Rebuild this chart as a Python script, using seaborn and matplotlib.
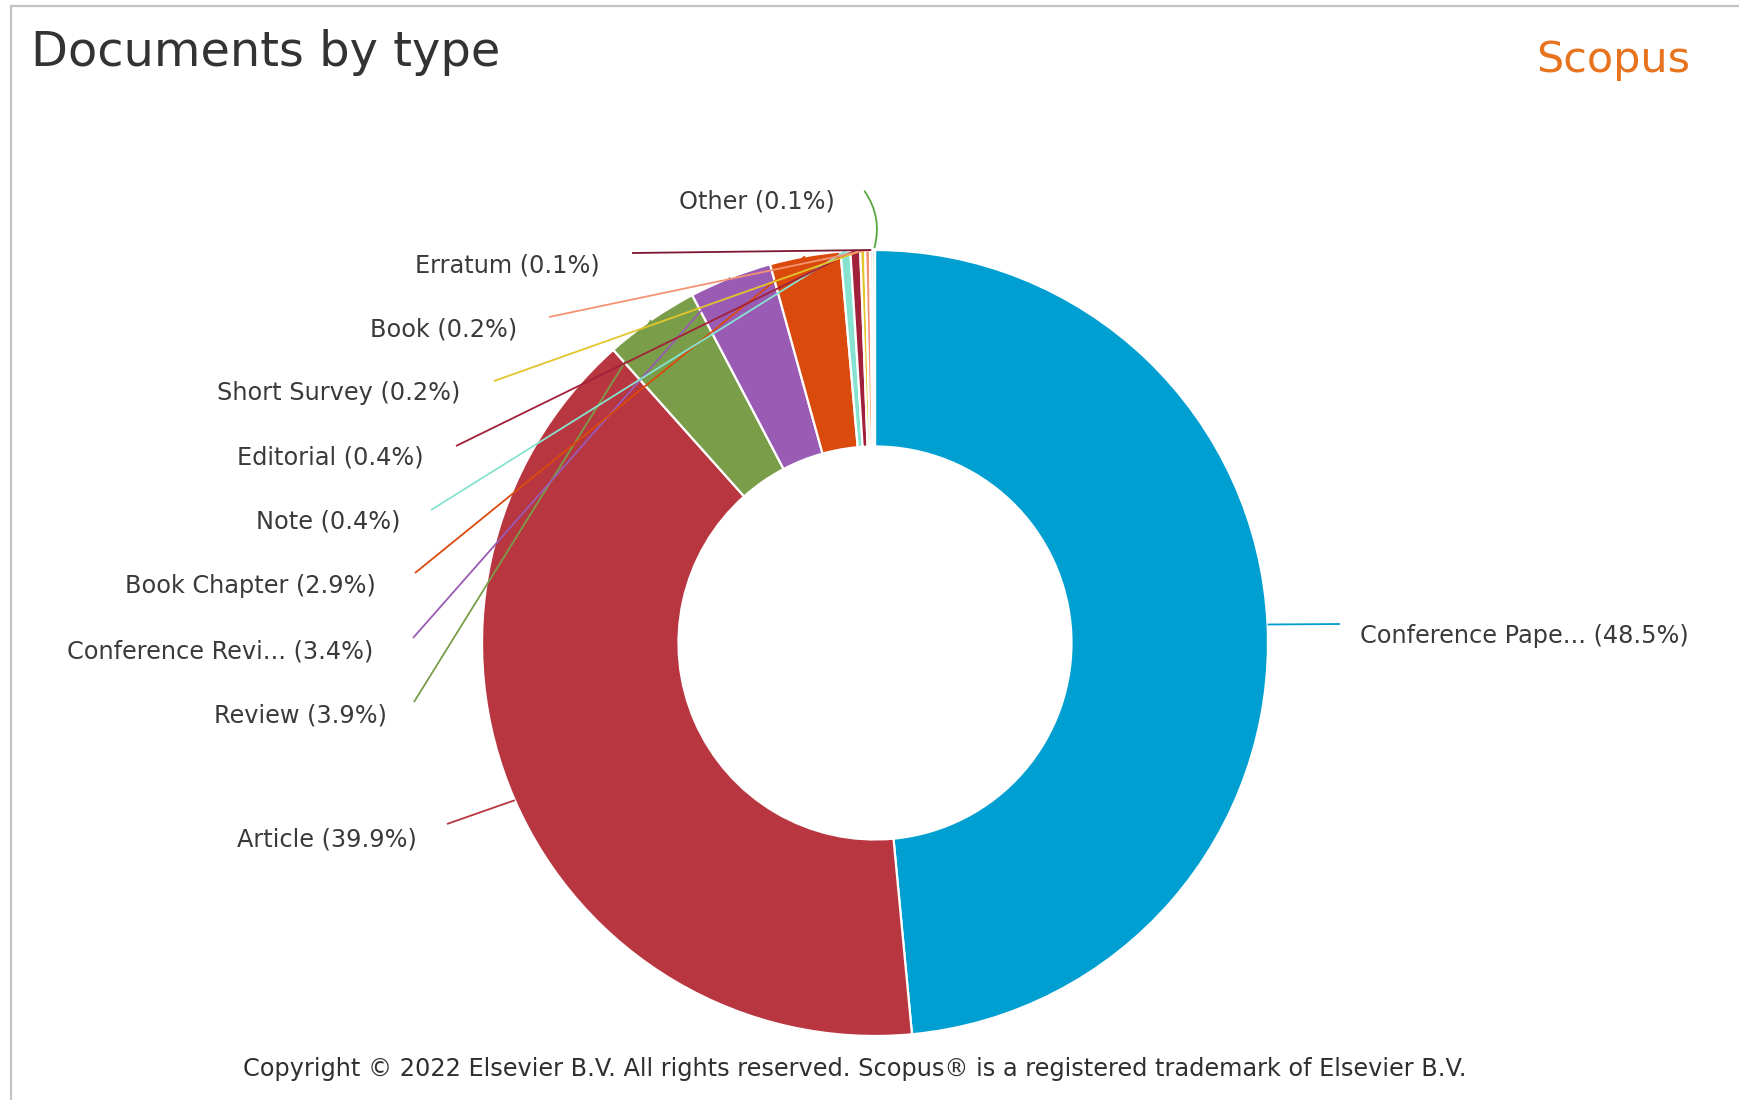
import numpy as np
import matplotlib
matplotlib.use("Agg")
import matplotlib.pyplot as plt
from matplotlib.patches import Rectangle
import seaborn as sns

# Document types and their share of the total (%)
doc_types = ["Conference Pape...", "Article", "Review", "Conference Revi...",
             "Book Chapter", "Note", "Editorial", "Short Survey", "Book",
             "Erratum", "Other"]
shares = [48.5, 39.9, 3.9, 3.4, 2.9, 0.4, 0.4, 0.2, 0.2, 0.1, 0.1]
slice_colors = ["#009fd1", "#b8363f", "#7a9d4a", "#9a5bb5", "#da4a0c",
                "#86e3d0", "#a1213a", "#e3c52c", "#f49373", "#7a1730",
                "#58a63f"]

sns.set_theme(style="white")
plt.rcParams["font.family"] = ["DejaVu Sans"]

W, H = 1739, 1100
fig = plt.figure(figsize=(W / 100, H / 100), dpi=100)
fig.patch.set_facecolor("white")
ax = fig.add_axes([0, 0, 1, 1])
ax.set_xlim(0, W)
ax.set_ylim(0, H)
ax.set_aspect("equal")
ax.axis("off")


def py(y):
    """Pixel row (top-down) to data y (bottom-up)."""
    return H - y


# panel border
ax.add_patch(Rectangle((10.5, py(1200)), 2000, 1200 - 6, fill=False,
                       edgecolor="#c4c4c4", linewidth=1.6, zorder=0))

cx, cy, R = 875, 643, 393
wedges, _ = ax.pie(shares, colors=slice_colors, startangle=90,
                   counterclock=False, radius=R, center=(cx, py(cy)),
                   wedgeprops=dict(width=R * 0.5, edgecolor="white",
                                   linewidth=1.6))
ax.set_xlim(0, W)
ax.set_ylim(0, H)

# label anchor (x, y, ha) and connector end point, in pixel rows
label_pos = [
    (1360, 636, "left", 1340, 624),
    (417, 839, "right", 447, 824),
    (387, 715, "right", 414, 702),
    (373, 651, "right", 413, 638),
    (376, 586, "right", 415, 573),
    (401, 522, "right", 431, 510),
    (424, 458, "right", 456, 446),
    (460, 393, "right", 494, 381),
    (517, 330, "right", 549, 317),
    (600, 266, "right", 632, 253),
    (757, 202, "center", 863, 189),
]

for wdg, name, val, col, (lx, ly, ha, ex, ey) in zip(
        wedges, doc_types, shares, slice_colors, label_pos):
    mid = np.deg2rad((wdg.theta1 + wdg.theta2) / 2)
    sx = cx + R * np.cos(mid)
    sy = py(cy) + R * np.sin(mid)
    if name == "Other":
        ax.annotate("", xy=(sx, sy), xytext=(ex, py(ey)),
                    arrowprops=dict(arrowstyle="-", color=col, lw=1.3,
                                    connectionstyle="arc3,rad=-0.25"))
    else:
        ax.plot([sx, ex], [sy, py(ey)], color=col, lw=1.3,
                solid_capstyle="butt", zorder=3)
    ax.text(lx, py(ly), f"{name} ({val}%)", ha=ha, va="center",
            fontsize=17.3, color="#3a3a3a", zorder=4)

ax.text(31, py(52), "Documents by type", ha="left", va="center",
        fontsize=34.5, color="#333333")
ax.text(1690, py(60), "Scopus", ha="right", va="center",
        fontsize=31, color="#e8731e")
ax.text(855, py(1069),
        "Copyright \u00a9 2022 Elsevier B.V. All rights reserved. "
        "Scopus\u00ae is a registered trademark of Elsevier B.V.",
        ha="center", va="center", fontsize=17.3, color="#2f2f2f")

fig.savefig("out.png", dpi=100, facecolor="white")
